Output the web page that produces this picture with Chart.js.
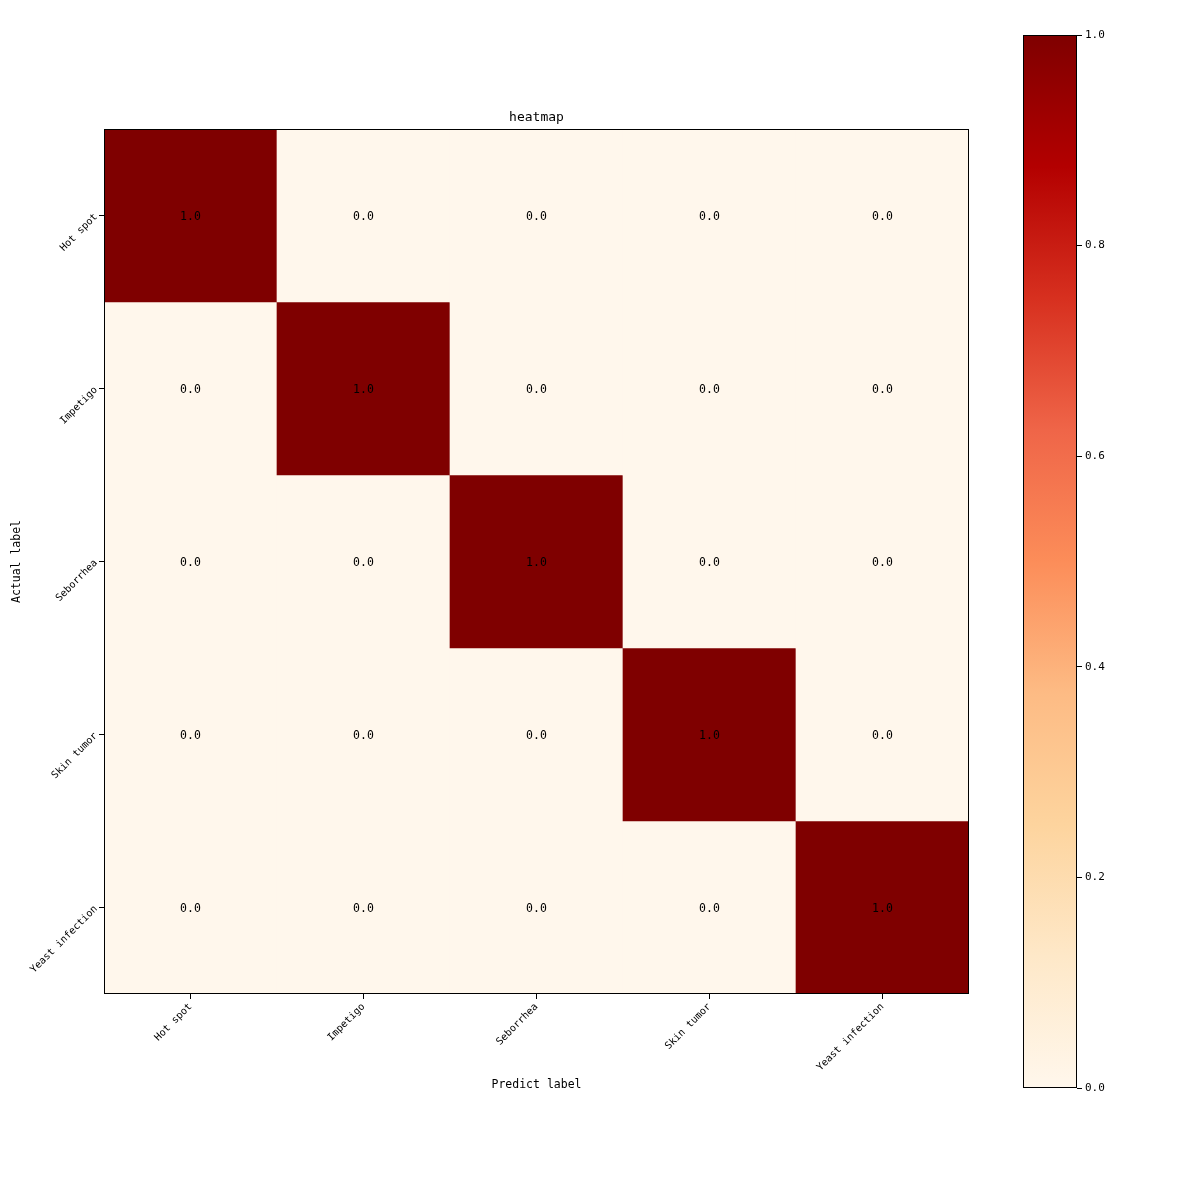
<!DOCTYPE html>
<html>
<head>
<meta charset="utf-8">
<script src="https://cdn.jsdelivr.net/npm/chart.js@4"></script>
<style>
  html, body { margin: 0; padding: 0; background: #fff; }
  #wrap { position: relative; width: 1200px; height: 1200px; }
  #heatmap { position: absolute; left: 0; top: 0; width: 1000px; height: 1200px; }
  #colorbar { position: absolute; left: 1000px; top: 0; width: 200px; height: 1200px; }
</style>
</head>
<body>
<div id="wrap">
  <canvas id="heatmap" width="1000" height="1200"></canvas>
  <canvas id="colorbar" width="200" height="1200"></canvas>
</div>
<script>
const predictLabels = ["Hot spot", "Impetigo", "Seborrhea", "Skin tumor", "Yeast infection"];
const actualLabels = ["Hot spot", "Impetigo", "Seborrhea", "Skin tumor", "Yeast infection"];

// rows = actual label, columns = predicted label
const matrixRows = [
    [1.0, 0.0, 0.0, 0.0, 0.0],
    [0.0, 1.0, 0.0, 0.0, 0.0],
    [0.0, 0.0, 1.0, 0.0, 0.0],
    [0.0, 0.0, 0.0, 1.0, 0.0],
    [0.0, 0.0, 0.0, 0.0, 1.0],
];

const colorbarTicks = [0.0, 0.2, 0.4, 0.6, 0.8, 1.0];
const colorbarRange = [0.0, 1.0];

// matplotlib "OrRd"
const ORRD = ["#fff7ec", "#fee8c8", "#fdd49e", "#fdbb84", "#fc8d59", "#ef6548", "#d7301f", "#b30000", "#7f0000"];
const FONT = "'DejaVu Sans Mono', monospace";

function hexToRgb(h) {
    return [1, 3, 5].map((i) => parseInt(h.slice(i, i + 2), 16));
}

function orrd(v) {
    const t = Math.min(1, Math.max(0, (v - colorbarRange[0]) / (colorbarRange[1] - colorbarRange[0])));
    const pos = t * (ORRD.length - 1);
    const i = Math.min(ORRD.length - 2, Math.floor(pos));
    const f = pos - i;
    const a = hexToRgb(ORRD[i]);
    const b = hexToRgb(ORRD[i + 1]);
    const c = a.map((x, k) => Math.round(x + (b[k] - x) * f));
    return `rgb(${c[0]}, ${c[1]}, ${c[2]})`;
}

// Chart.js only draws the axis line on the axis side, so the full box is stroked here.
const frameBorder = {
    id: "frameBorder",
    afterDatasetsDraw(chart) {
        const { ctx, chartArea: a } = chart;
        ctx.save();
        ctx.strokeStyle = "#000";
        ctx.lineWidth = 1;
        const l = Math.round(a.left) + 0.5;
        const t = Math.round(a.top) + 0.5;
        ctx.strokeRect(l, t, Math.round(a.right) - Math.round(a.left) - 1, Math.round(a.bottom) - Math.round(a.top) - 1);
        ctx.restore();
    },
};

const cellText = {
    id: "cellText",
    afterDatasetsDraw(chart) {
        const { ctx, scales } = chart;
        ctx.save();
        ctx.fillStyle = "#000";
        ctx.font = `11.5px ${FONT}`;
        ctx.textAlign = "center";
        ctx.textBaseline = "middle";
        matrixRows.forEach((row, i) => {
            row.forEach((v, j) => {
                // +2: DejaVu's "middle" sits a little high compared to the original
                ctx.fillText(v.toFixed(1), scales.x.getPixelForValue(j), scales.y.getPixelForValue(i) + 2);
            });
        });
        ctx.restore();
    },
};

function renderHeatmap() {
    const datasets = matrixRows.map((row, i) => ({
        data: row.map(() => [i - 0.5, i + 0.5]),
        backgroundColor: row.map(orrd),
        borderWidth: 0,
        barPercentage: 1,
        categoryPercentage: 1,
        grouped: false,
    }));

    new Chart(document.getElementById("heatmap"), {
        type: "bar",
        data: { labels: predictLabels, datasets },
        options: {
            responsive: false,
            animation: false,
            layout: { padding: { left: 0, right: 31, top: 0, bottom: 0 } },
            plugins: {
                legend: { display: false },
                tooltip: { enabled: false },
                title: {
                    display: true,
                    fullSize: false,
                    text: "heatmap",
                    color: "#000",
                    font: { family: FONT, size: 13, weight: "normal" },
                    padding: { top: 110, bottom: 3.4 },
                },
            },
            scales: {
                x: {
                    type: "category",
                    offset: true,
                    border: { display: false },
                    grid: { offset: false, drawOnChartArea: false, drawTicks: true, tickLength: 5, color: "#000" },
                    ticks: { minRotation: 45, maxRotation: 45, color: "#000", font: { family: FONT, size: 10 }, padding: 2 },
                    title: {
                        display: true,
                        text: "Predict label",
                        color: "#000",
                        font: { family: FONT, size: 11.5 },
                        padding: { top: 0, bottom: 108 },
                    },
                    afterFit(scale) { scale.height = 206; },
                },
                y: {
                    type: "linear",
                    min: -0.5,
                    max: 4.5,
                    reverse: true,
                    border: { display: false },
                    grid: { drawOnChartArea: false, drawTicks: true, tickLength: 5, color: "#000" },
                    afterBuildTicks(scale) { scale.ticks = actualLabels.map((_, i) => ({ value: i })); },
                    ticks: {
                        minRotation: 45,
                        maxRotation: 45,
                        color: "#000",
                        font: { family: FONT, size: 10 },
                        padding: 3,
                        callback: (v) => actualLabels[v],
                    },
                    title: {
                        display: true,
                        text: "Actual label",
                        color: "#000",
                        font: { family: FONT, size: 11.5 },
                        padding: { top: 10 },
                    },
                    afterFit(scale) { scale.width = 104; },
                },
            },
        },
        plugins: [cellText, frameBorder],
    });
}

function renderColorbar() {
    new Chart(document.getElementById("colorbar"), {
        type: "bar",
        data: {
            labels: [""],
            datasets: [{
                data: [colorbarRange],
                backgroundColor(context) {
                    const area = context.chart.chartArea;
                    if (!area) return ORRD[0];
                    const g = context.chart.ctx.createLinearGradient(0, area.bottom, 0, area.top);
                    ORRD.forEach((c, i) => g.addColorStop(i / (ORRD.length - 1), c));
                    return g;
                },
                borderWidth: 0,
                barPercentage: 1,
                categoryPercentage: 1,
            }],
        },
        options: {
            responsive: false,
            animation: false,
            layout: { padding: { left: 23, right: 0, top: 35, bottom: 112 } },
            plugins: { legend: { display: false }, tooltip: { enabled: false } },
            scales: {
                x: { display: false },
                y: {
                    position: "right",
                    min: colorbarRange[0],
                    max: colorbarRange[1],
                    border: { display: false },
                    grid: { drawOnChartArea: false, drawTicks: true, tickLength: 5, color: "#000" },
                    afterBuildTicks(scale) { scale.ticks = colorbarTicks.map((v) => ({ value: v })); },
                    ticks: { color: "#000", font: { family: FONT, size: 11 }, padding: 3, callback: (v) => v.toFixed(1) },
                    afterFit(scale) { scale.width = 123; },
                },
            },
        },
        plugins: [frameBorder],
    });
}

renderHeatmap();
renderColorbar();
</script>
</body>
</html>
